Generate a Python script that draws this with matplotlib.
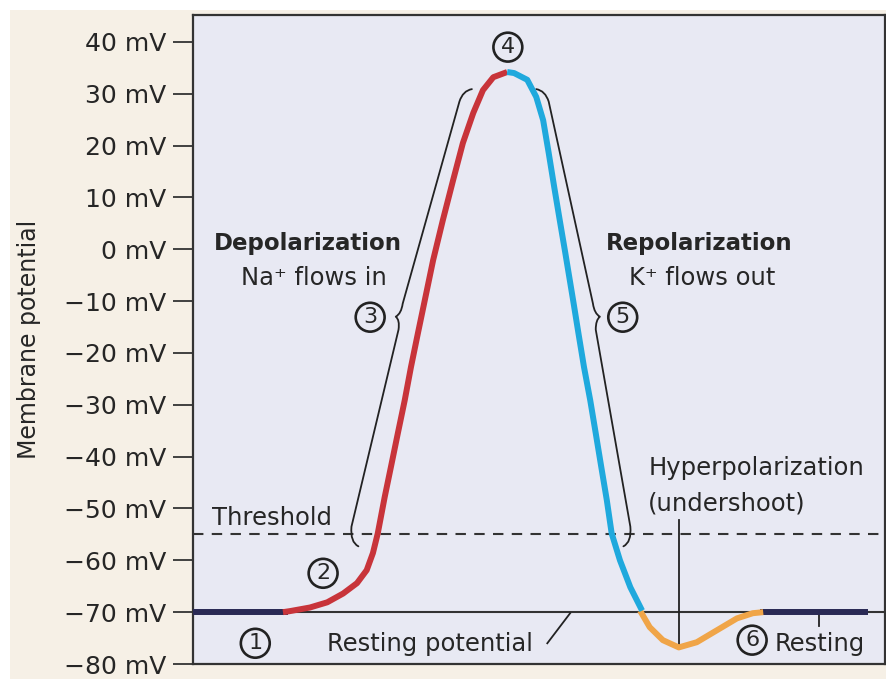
import matplotlib
matplotlib.use("Agg")
import matplotlib.pyplot as plt
from matplotlib.path import Path
from matplotlib.patches import PathPatch, Rectangle

# ---------------- data (time in ms, potential in mV) ----------------
rest1_t = [0.0, 1.38]
rest1_v = [-70, -70]

depol_t = [1.30, 1.40, 1.69, 1.94, 2.17, 2.37, 2.51, 2.60, 2.67, 2.77, 2.86,
           2.96, 3.06, 3.15, 3.25, 3.35, 3.47, 3.61, 3.76, 3.90, 4.05, 4.19,
           4.34, 4.54]
depol_v = [-70.0, -69.8, -69.1, -68.1, -66.4, -64.4, -61.9, -58.6, -54.8,
           -47.8, -42.0, -35.5, -29.1, -22.7, -16.2, -9.8, -2.1, 5.6, 13.4,
           20.5, 26.3, 30.7, 33.2, 34.2]

repol_t = [4.54, 4.64, 4.83, 4.96, 5.06, 5.14, 5.22, 5.30, 5.38, 5.50, 5.57,
           5.65, 5.74, 5.82, 5.90, 5.98, 6.05, 6.17, 6.32, 6.49]
repol_v = [34.2, 34.0, 32.7, 29.4, 24.9, 18.6, 12.0, 5.6, -0.7, -10.4, -16.2,
           -22.7, -29.1, -35.5, -42.0, -48.4, -54.8, -60.0, -65.2, -69.7]

hyper_t = [6.46, 6.60, 6.79, 7.02, 7.28, 7.57, 7.86, 8.09, 8.24]
hyper_v = [-69.7, -72.9, -75.4, -76.8, -75.8, -73.5, -71.2, -70.2, -70.0]

rest2_t = [8.20, 9.75]
rest2_v = [-70, -70]

threshold = -55
resting = -70

yticks = [40, 30, 20, 10, 0, -10, -20, -30, -40, -50, -60, -70, -80]
ytick_labels = [f"{v} mV".replace("-", "\u2212") for v in yticks]

# ---------------- style ----------------
CREAM = "#f6f0e6"
AX_BG = "#e8e9f3"
INK = "#262626"
RED = "#c8343a"
BLUE = "#1fa9dd"
ORANGE = "#f0a548"
NAVY = "#2a2a55"

plt.rcParams["font.family"] = ["DejaVu Sans"]

fig = plt.figure(figsize=(8.87, 6.79), dpi=100, facecolor="white")
fig.patches.append(Rectangle((10 / 887, 0), 1, (679 - 10) / 679,
                             transform=fig.transFigure, facecolor=CREAM,
                             edgecolor="none", zorder=-10))

ax = fig.add_axes([193 / 887, 1 - 664 / 679, (885 - 193) / 887, (664 - 15) / 679])
ax.set_facecolor(AX_BG)
ax.set_xlim(0, 10.0)
ax.set_ylim(-80, 45.2)

for s in ax.spines.values():
    s.set_color("#333333")
    s.set_linewidth(1.6)

ax.set_xticks([])
ax.set_yticks(yticks)
ax.set_yticklabels(ytick_labels, fontsize=18, color=INK)
ax.tick_params(axis="y", direction="out", length=14.5, width=1.3,
               color="#333333", pad=5)
ax.set_ylabel("Membrane potential", fontsize=17, color=INK, labelpad=16)

# reference lines
ax.axhline(resting, color="#333333", lw=1.5, zorder=2)
ax.axhline(threshold, color="#333333", lw=1.5, ls=(0, (5, 4)), zorder=2)

# curve
lw = 4.3
ax.plot(rest1_t, rest1_v, color=NAVY, lw=lw, solid_capstyle="butt", zorder=4)
ax.plot(rest2_t, rest2_v, color=NAVY, lw=lw, solid_capstyle="butt", zorder=4)
ax.plot(hyper_t, hyper_v, color=ORANGE, lw=lw, solid_joinstyle="round",
        solid_capstyle="butt", zorder=5)
ax.plot(depol_t, depol_v, color=RED, lw=lw, solid_joinstyle="round",
        solid_capstyle="butt", zorder=6)
ax.plot(repol_t, repol_v, color=BLUE, lw=lw, solid_joinstyle="round",
        solid_capstyle="butt", zorder=6)


# braces
def brace(ax, verts):
    codes = [Path.MOVETO, Path.CURVE3, Path.CURVE3, Path.LINETO,
             Path.CURVE3, Path.CURVE3, Path.CURVE3, Path.CURVE3,
             Path.LINETO, Path.CURVE3, Path.CURVE3]
    ax.add_patch(PathPatch(Path(verts, codes), fill=False, edgecolor="#222222",
                           lw=1.3, zorder=3, capstyle="round", joinstyle="round"))


brace(ax, [(4.03, 30.9), (3.90, 30.6), (3.85, 28.5), (3.03, -10.5),
           (3.01, -12.4), (2.93, -13.0), (2.99, -13.6), (2.97, -15.5),
           (2.29, -53.5), (2.27, -56.5), (2.39, -57.3)])
brace(ax, [(4.96, 30.9), (5.09, 30.6), (5.14, 28.5), (5.78, -10.5),
           (5.80, -12.4), (5.88, -13.0), (5.82, -13.6), (5.82, -15.5),
           (6.32, -53.5), (6.34, -56.5), (6.22, -57.3)])

# leader lines
ax.plot([7.02, 7.02], [-52.3, -76.8], color="#222222", lw=1.3, zorder=3)
ax.plot([5.12, 5.45], [-76.0, -70.2], color="#222222", lw=1.3, zorder=3)
ax.plot([9.05, 9.05], [-70, -72.6], color="#222222", lw=1.3, zorder=3)

# texts
txt = dict(color=INK, fontsize=17.5)
ax.text(1.66, -0.15, "Depolarization", ha="center", va="baseline",
        fontweight="bold", fontsize=16.5, color=INK)
ax.text(1.74, -6.9, "Na\u207a flows in", ha="center", va="baseline", **txt)
ax.text(7.31, -0.15, "Repolarization", ha="center", va="baseline",
        fontweight="bold", fontsize=16.5, color=INK)
ax.text(7.36, -6.9, "K\u207a flows out", ha="center", va="baseline", **txt)
ax.text(6.58, -43.6, "Hyperpolarization", ha="left", va="baseline", **txt)
ax.text(6.58, -50.3, "(undershoot)", ha="left", va="baseline", **txt)
ax.text(0.27, -53.2, "Threshold", ha="left", va="baseline", **txt)
ax.text(1.94, -77.4, "Resting potential", ha="left", va="baseline", **txt)
ax.text(8.41, -77.4, "Resting", ha="left", va="baseline", **txt)

circ = dict(boxstyle="circle,pad=0.2", facecolor=AX_BG, edgecolor="#222222",
            linewidth=1.9)
for label, t, v in [("1", 0.90, -76.0), ("2", 1.88, -62.5), ("3", 2.56, -13.1),
                    ("4", 4.55, 39.0), ("5", 6.21, -13.1), ("6", 8.08, -75.4)]:
    ax.text(t, v, label, ha="center", va="center", fontsize=16, color=INK,
            bbox=circ, zorder=7)

fig.savefig("out.png", dpi=100, facecolor=fig.get_facecolor())
